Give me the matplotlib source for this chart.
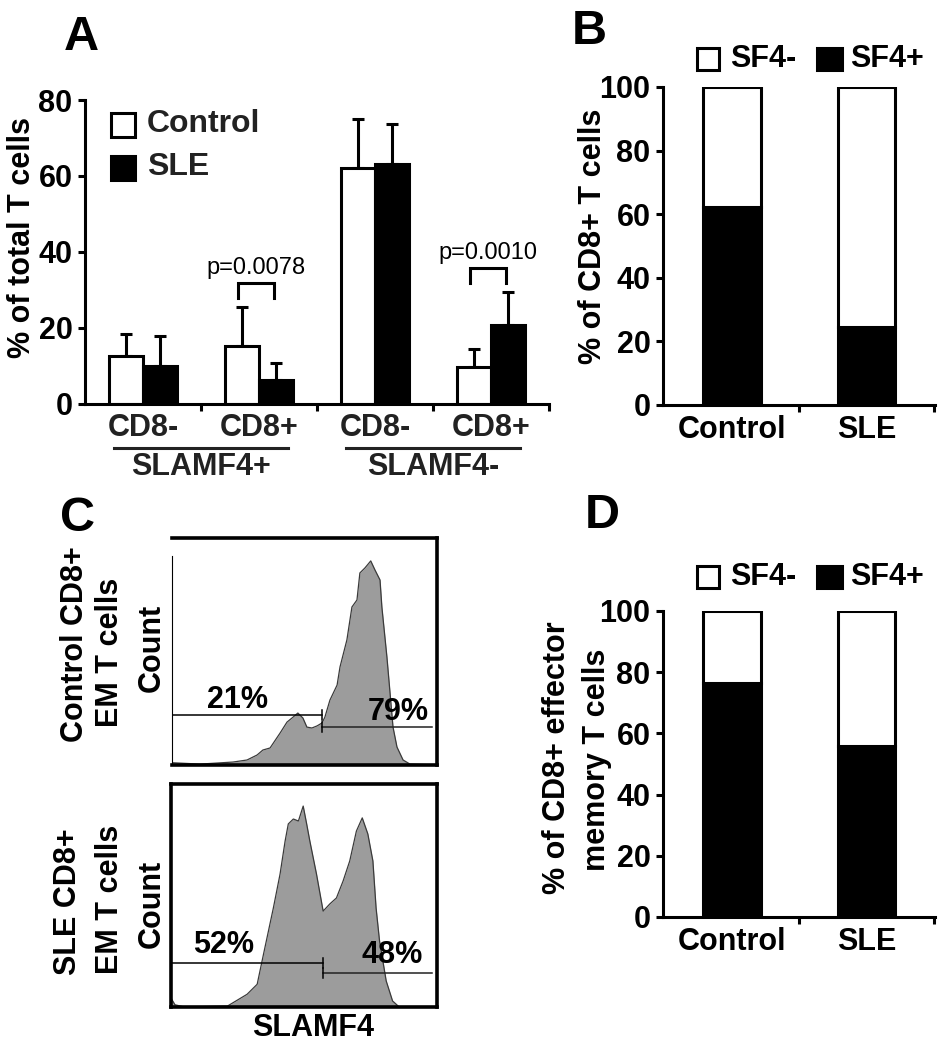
import matplotlib
matplotlib.use('Agg')
import matplotlib.pyplot as plt
from matplotlib.patches import Rectangle

plt.rcParams['font.family'] = ['Liberation Sans', 'DejaVu Sans']
plt.rcParams['font.weight'] = 'bold'
plt.rcParams['axes.linewidth'] = 2.2

# ---------------- data ----------------
# Panel A
cd8_labels = ['CD8-', 'CD8+', 'CD8-', 'CD8+']
slamf4_groups = ['SLAMF4+', 'SLAMF4-']
control_mean = [12.4, 15.1, 62.2, 9.6]
control_sd = [5.8, 10.3, 12.9, 4.8]
sle_mean = [9.9, 6.3, 63.2, 20.6]
sle_sd = [7.8, 4.3, 10.4, 8.8]
p_groups = [1, 3]
p_labels = ['p=0.0078', 'p=0.0010']
yticks_A = [0, 20, 40, 60, 80]

# Panel B / D
cohorts = ['Control', 'SLE']
b_sf4pos = [62.2, 24.4]
d_sf4pos = [76.5, 55.8]
yticks_BD = [0, 20, 40, 60, 80, 100]

# Panel C (histograms: SLAMF4 intensity vs. count, % of max)
ctrl_x = [0, 10.6, 23.0, 28.3, 32.1, 34.3, 37.0, 40.8, 43.4, 45.7, 47.5, 49.4, 50.9,
          52.8, 54.7, 56.6, 57.7, 59.6, 62.3, 63.4, 66.0, 67.9, 69.8, 70.9, 72.8,
          75.0, 76.6, 78.5, 79.2, 81.1, 83.4, 84.9, 87.2, 89.8, 100]
ctrl_y = [1.0, 0.4, 1.3, 2.2, 4.4, 6.6, 7.5, 14.1, 18.9, 21.1, 22.9, 20.7, 16.7,
          16.3, 17.2, 18.5, 21.1, 28.6, 35.2, 43.2, 55.1, 69.6, 72.7, 84.6, 86.8,
          89.9, 85.9, 81.5, 69.6, 47.6, 16.7, 7.9, 2.2, 0.4, 0.0]
sle_x = [0, 1.5, 5, 21.2, 28.6, 32.4, 34.8, 38.5, 41.0, 42.9, 44.1, 46.0, 47.9, 49.7,
         51.0, 52.2, 54.7, 57.2, 59.7, 62.2, 64.7, 67.2, 69.7, 71.9, 74.0, 75.9, 77.1,
         78.4, 80.9, 83.3, 85.8, 100]
sle_y = [4.0, 1.0, 0.0, 0.4, 5.7, 10.2, 23.8, 44.5, 59.6, 74.4, 82.1, 84.3, 83.4, 90.1,
         82.1, 74.4, 59.6, 43.0, 46.2, 48.9, 56.5, 65.5, 78.9, 84.8, 77.6, 65.5, 44.4,
         29.6, 11.7, 2.7, 0.0, 0.0]
ctrl_gate = 56.6
sle_gate = 57.0
ctrl_pct = ['21%', '79%']
sle_pct = ['52%', '48%']

# ---------------- layout helpers ----------------
W, H = 939, 1050
fig = plt.figure(figsize=(W / 100, H / 100), dpi=100)


def rect(l, t, r, b):
    return [l / W, 1 - b / H, (r - l) / W, (b - t) / H]


def fx(x):
    return x / W


def fy(y):
    return 1 - y / H


FS = 22
LW = 2.2

# ---------------- Panel A ----------------
axA = fig.add_axes(rect(85, 100, 549, 403.5))
bw = 0.29
off = 0.145
xs = list(range(len(cd8_labels)))
xc = [x - off for x in xs]
xsle = [x + off for x in xs]
axA.errorbar(xc, control_mean, yerr=[[0] * 4, control_sd], fmt='none', ecolor='black',
             elinewidth=LW, capsize=4.5, capthick=LW, zorder=1)
axA.errorbar(xsle, sle_mean, yerr=[[0] * 4, sle_sd], fmt='none', ecolor='black',
             elinewidth=LW, capsize=4.5, capthick=LW, zorder=1)
axA.bar(xc, control_mean, width=bw, color='white', edgecolor='black', linewidth=LW, zorder=2)
axA.bar(xsle, sle_mean, width=bw, color='black', edgecolor='black', linewidth=LW, zorder=2)
axA.set_xlim(-0.5, 3.5)
axA.set_ylim(0, 80)
axA.spines['top'].set_visible(False)
axA.spines['right'].set_visible(False)
axA.set_yticks(yticks_A)
axA.set_yticklabels([str(v) for v in yticks_A], fontsize=FS, fontweight='bold')
axA.tick_params(axis='y', length=5, width=LW, pad=4)
axA.set_xticks(xs)
axA.set_xticklabels(cd8_labels, fontsize=FS, fontweight='bold', color='#222222')
axA.set_xticks([0.5, 1.5, 2.5, 3.5], minor=True)
axA.tick_params(axis='x', which='major', length=0, pad=7)
axA.tick_params(axis='x', which='minor', length=5, width=LW)
fig.text(fx(22), fy(238), '% of total T cells', rotation=90, ha='center', va='center',
         fontsize=FS, fontweight='bold')
trA = axA.get_xaxis_transform()
for gi, name in enumerate(slamf4_groups):
    c = 0.5 + 2 * gi
    axA.plot([c - 0.75, c + 0.75], [-0.147, -0.147], color='#222222', lw=LW,
             transform=trA, clip_on=False)
    axA.text(c, -0.21, name, transform=trA, ha='center', va='center',
             fontsize=FS, fontweight='bold', color='#222222')
for g, lab in zip(p_groups, p_labels):
    top = max(control_mean[g] + control_sd[g], sle_mean[g] + sle_sd[g])
    yb = top + 6.3
    x0, x1 = g - off - 0.04, g + off - 0.02
    axA.plot([x0, x0, x1, x1], [yb - 3.9, yb, yb, yb - 3.9], color='black', lw=LW,
             solid_joinstyle='miter')
    axA.text((x0 + x1) / 2, yb + 4.1, lab, ha='center', va='center',
             fontsize=17, fontweight='normal')
# legend A
for (y0, fc, lab) in [(113, 'white', 'Control'), (156, 'black', 'SLE')]:
    fig.patches.append(Rectangle((fx(111), fy(y0 + 24)), 24 / W, 24 / H, facecolor=fc,
                                 edgecolor='black', linewidth=LW,
                                 transform=fig.transFigure))
    fig.text(fx(147), fy(y0 + 11), lab, ha='left', va='center', fontsize=23,
             fontweight='bold', color='#222222')


# ---------------- Panel B & D ----------------
def stacked(box, pos, ylabel_lines, legend_y):
    ax = fig.add_axes(rect(*box))
    neg = [100 - v for v in pos]
    xpos = list(range(len(cohorts)))
    ax.bar(xpos, pos, width=0.43, color='black', edgecolor='black', linewidth=LW)
    ax.bar(xpos, neg, bottom=pos, width=0.43, color='white', edgecolor='black',
           linewidth=LW)
    ax.set_xlim(-0.513, 1.51)
    ax.set_ylim(0, 100)
    ax.spines['top'].set_visible(False)
    ax.spines['right'].set_visible(False)
    ax.set_yticks(yticks_BD)
    ax.set_yticklabels([str(v) for v in yticks_BD], fontsize=FS, fontweight='bold')
    ax.tick_params(axis='y', length=5, width=LW, pad=4)
    ax.set_xticks(xpos)
    ax.set_xticklabels(cohorts, fontsize=FS, fontweight='bold')
    ax.set_xticks([0.5, 1.5], minor=True)
    ax.tick_params(axis='x', which='major', length=0, pad=7)
    ax.tick_params(axis='x', which='minor', length=5, width=LW)
    for (x, txt, yl) in ylabel_lines:
        fig.text(fx(x), fy(yl), txt, rotation=90, ha='center', va='center',
                 fontsize=FS, fontweight='bold')
    for (sx, sw, fc, tx, lab) in [(697, 22, 'white', 730, 'SF4-'),
                                  (817, 25, 'black', 850, 'SF4+')]:
        fig.patches.append(Rectangle((fx(sx), fy(legend_y + 11)), sw / W, 22 / H,
                                     facecolor=fc, edgecolor='black', linewidth=LW,
                                     transform=fig.transFigure))
        fig.text(fx(tx), fy(legend_y), lab, ha='left', va='center', fontsize=FS,
                 fontweight='bold')
    return ax


stacked((663, 87, 935, 405), b_sf4pos, [(593, '% of CD8+ T cells', 236)], 59)
stacked((663, 611, 935, 917), d_sf4pos,
        [(557, '% of CD8+ effector', 758), (597, 'memory T cells', 760)], 577)


# ---------------- Panel C ----------------
def histo(box, x, y, gate, levels, pcts, pct_pos, thin_left):
    ax = fig.add_axes(rect(*box))
    ax.fill_between(x, y, 0, color='#9c9c9c', lw=0)
    ax.plot(x, y, color='#3a3a3a', lw=0.9)
    ax.set_xlim(0, 100)
    ax.set_ylim(0, 100)
    ax.set_xticks([])
    ax.set_yticks([])
    for s in ax.spines.values():
        s.set_linewidth(2.6)
    if thin_left:
        ax.spines['left'].set_linewidth(0.8)
        ax.spines['left'].set_bounds(0, 92)
    lv, rv = levels
    ax.plot([0.3, gate], [lv, lv], color='black', lw=1.1)
    ax.plot([gate, 98.3], [rv, rv], color='#222222', lw=1.1)
    ax.plot([gate, gate], [lv - 2.2, lv + 2.2], color='black', lw=1.1)
    ax.plot([gate, gate], [rv - 2.2, rv + 2.2], color='black', lw=1.1)
    for txt, (px, py) in zip(pcts, pct_pos):
        ax.text(px, py, txt, ha='center', va='center', fontsize=FS, fontweight='bold')
    return ax


histo((172, 538, 437, 765), ctrl_x, ctrl_y, ctrl_gate, (22.0, 16.7), ctrl_pct,
      [(24.9, 28.6), (85.3, 23.4)], True)
histo((171, 784, 437, 1007), sle_x, sle_y, sle_gate, (19.9, 15.1), sle_pct,
      [(19.9, 27.8), (83.2, 23.2)], False)

for (x, y, t) in [(75, 644, 'Control CD8+'), (110, 652, 'EM T cells'), (152, 648, 'Count'),
                  (68, 902, 'SLE CD8+'), (110, 899, 'EM T cells'), (152, 904, 'Count')]:
    fig.text(fx(x), fy(y), t, rotation=90, ha='center', va='center', fontsize=FS,
             fontweight='bold')
fig.text(fx(313), fy(1028), 'SLAMF4', ha='center', va='center', fontsize=FS,
         fontweight='bold')

# panel letters
for (x, y, t) in [(81, 38, 'A'), (589, 31, 'B'), (77, 518, 'C'), (602, 515, 'D')]:
    fig.text(fx(x), fy(y), t, ha='center', va='center', fontsize=35, fontweight='bold')

fig.savefig('out.png', dpi=100, facecolor='white')
